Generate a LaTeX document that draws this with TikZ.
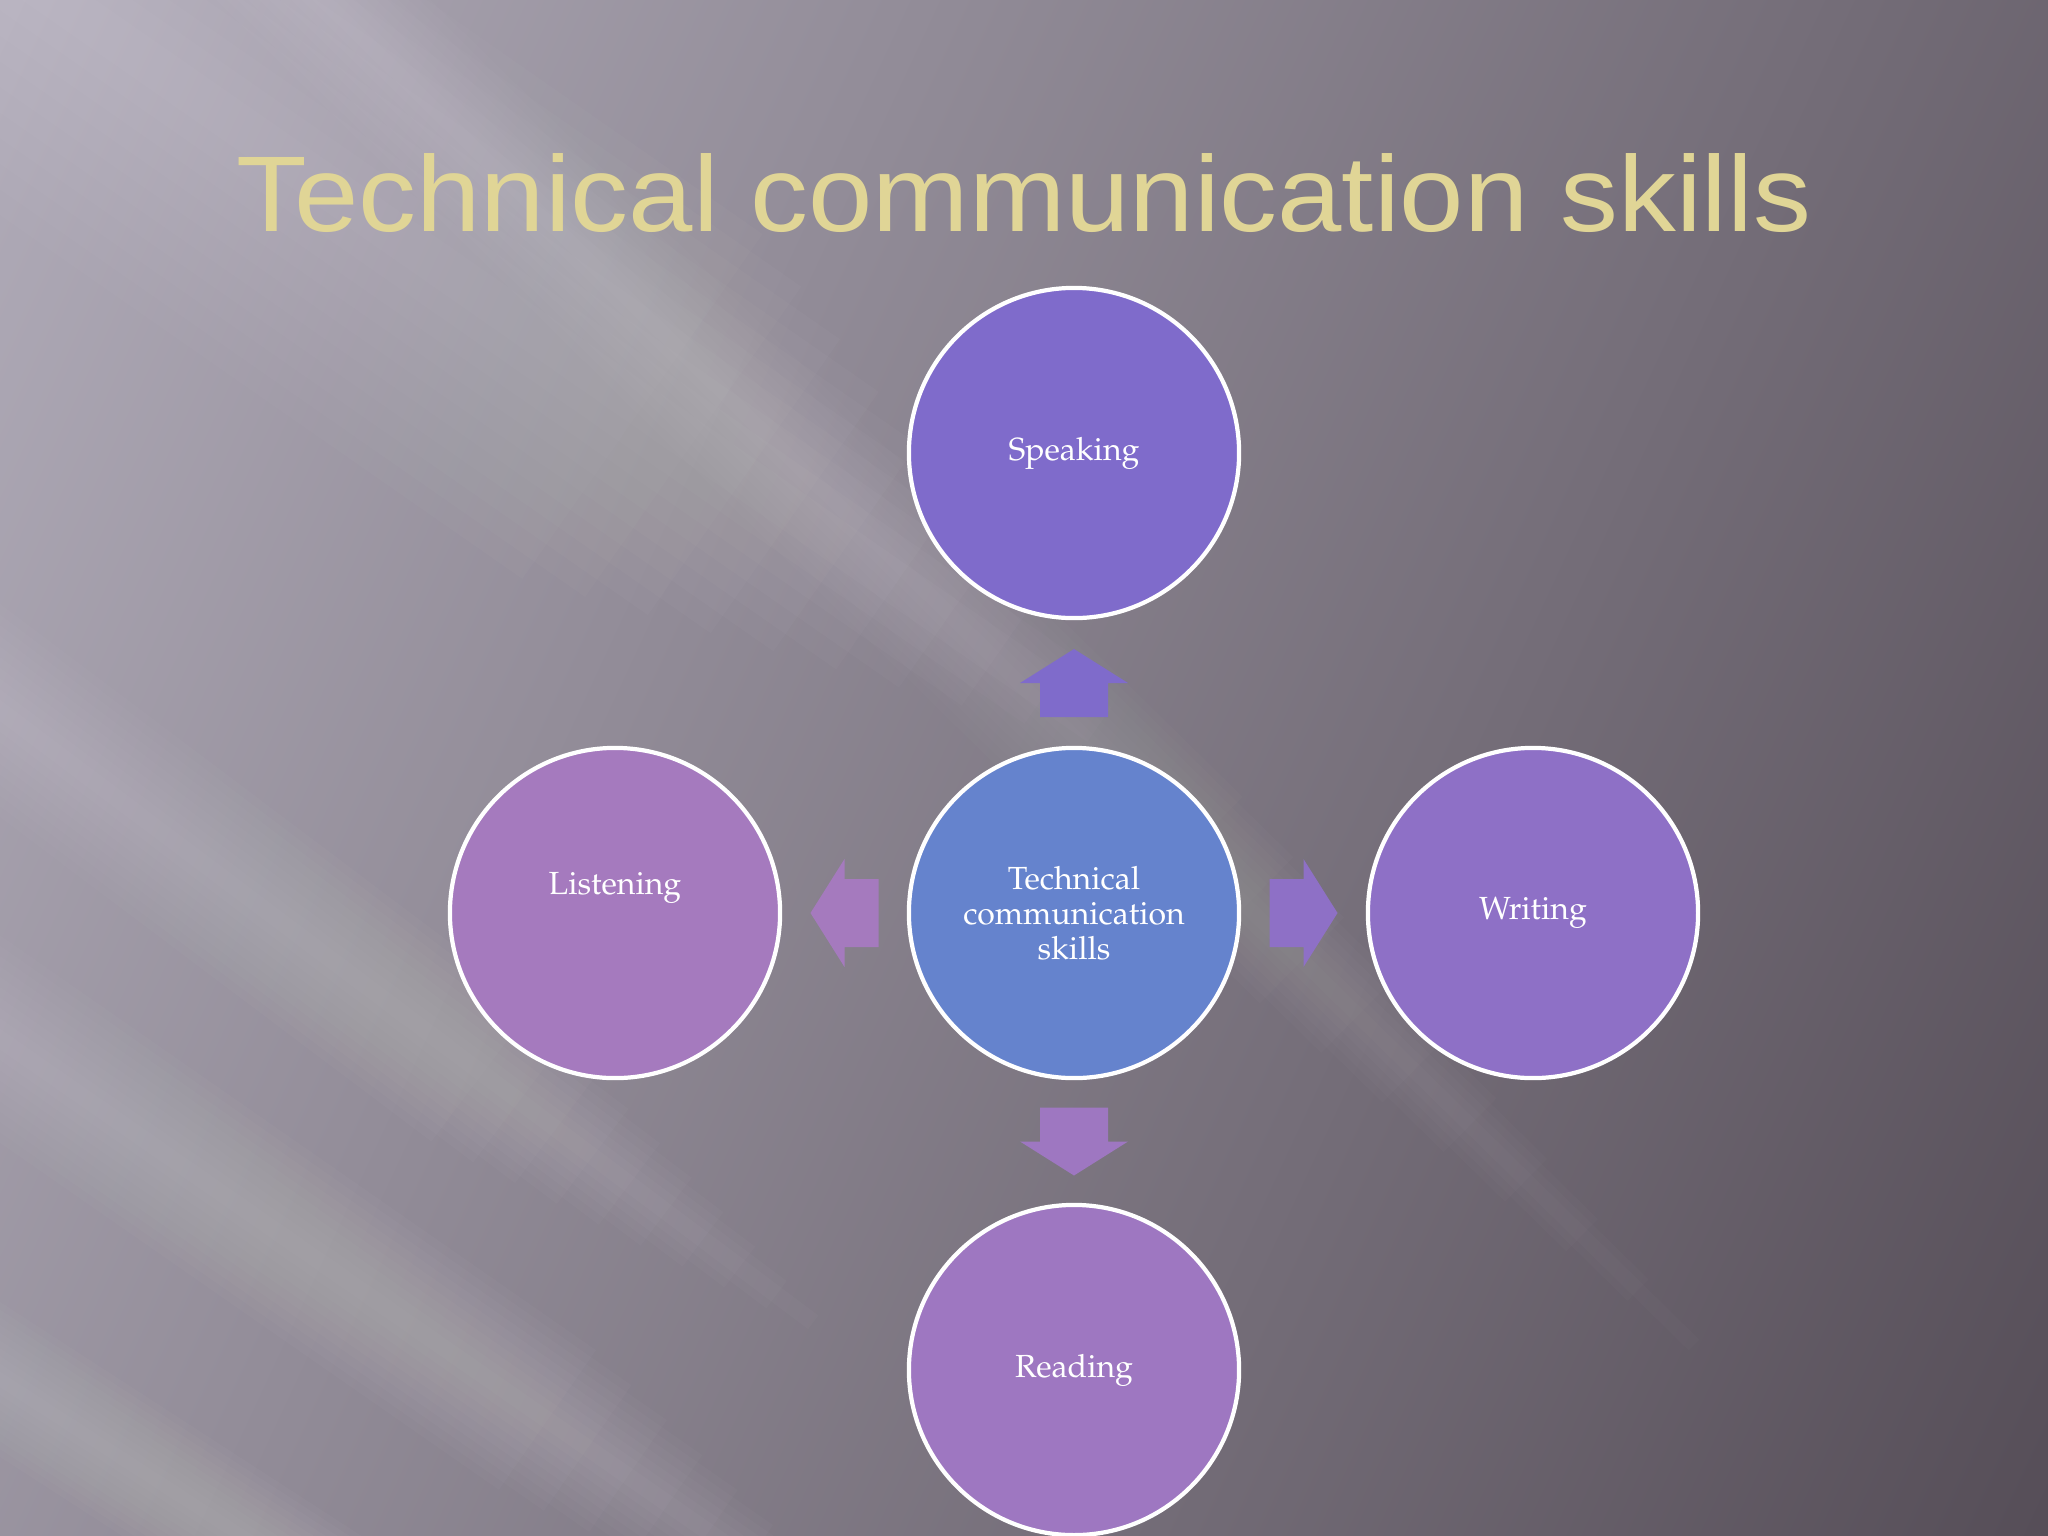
\documentclass[tikz,border=0pt]{standalone}
\usepackage[T1]{fontenc}
\usepackage{fontspec}
\newfontfamily\titlefont{Liberation Sans}
\newcommand\palafont{\fontencoding{T1}\fontfamily{ppl}\selectfont}
\usetikzlibrary{calc}
\definecolor{cSpeak}{HTML}{7F6BCB}
\definecolor{cCenter}{HTML}{6583CD}
\definecolor{cListen}{HTML}{A57ABE}
\definecolor{cWrite}{HTML}{8E70C6}
\definecolor{cRead}{HTML}{9E77C1}
\definecolor{cTitle}{HTML}{E0D596}
\definecolor{bgA}{HTML}{B0ABB8}
\definecolor{bgM}{HTML}{736B77}
\definecolor{bgB}{HTML}{564E58}
\tikzset{
  skill/.style={circle, minimum size=3.3cm, inner sep=0pt, draw=white, line width=1.2pt,
    text=white, font=\palafont\fontsize{9.1}{10}\selectfont, align=center},
  ctext/.style={text=white, font=\palafont\fontsize{9.1}{10}\selectfont, inner sep=0pt},
  blockarrow/.pic={\fill (-34,-34) -- (0,-34) -- (0,-54) -- (34,0) -- (0,54) -- (0,34) -- (-34,34) -- cycle;},
  ray/.style={white, line cap=butt},
  titletext/.style={font=\titlefont\fontsize{30.6}{36}\selectfont, xscale=1.075, inner sep=0pt, anchor=base}
}
\newcommand\lightray[4]{% start, end, width (px), opacity per layer
  \foreach \k in {1,...,10}{\draw[ray, opacity=#4, line width=\k*#3*0.2845pt/10]
    (#1) -- ($(#1)!{1-0.035*\k}!(#2)$);}}
\begin{document}
\begin{tikzpicture}[x=0.01cm, y=-0.01cm]
\useasboundingbox (0,0) rectangle (2048,1536);
% background
\begin{scope}
\clip (0,0) rectangle (2048,1536);
\shade[top color=bgA, middle color=bgM, bottom color=bgB, shading angle=65] (-300,-300) rectangle (2348,1836);
\lightray{-300,-250}{1150,760}{420}{0.018}
\lightray{150,-170}{1750,1400}{150}{0.016}
\lightray{-200,560}{850,1350}{170}{0.02}
\lightray{-200,900}{950,1700}{170}{0.02}
\lightray{-200,1250}{650,1800}{130}{0.018}
\end{scope}
% title
\node[titletext, text=cTitle] (title) at (1024,231) {Technical communication skills};
% circles
\node[skill, fill=cCenter] (ce) at (1074,913) {Technical\\communication\\skills};
\node[skill, fill=cSpeak] (sp) at (1074,453) {Speaking};
\node[skill, fill=cListen, label={[ctext, yshift=0.25cm]center:Listening}] (li) at (615,913) {};
\node[skill, fill=cWrite] (wr) at (1533,913) {Writing};
\node[skill, fill=cRead] (re) at (1074,1370) {Reading};
% block arrows
\pic[fill=cSpeak, rotate=90] at ($(ce.north)!0.5!(sp.south)$) {blockarrow};
\pic[fill=cListen, rotate=180] at ($(ce.west)!0.5!(li.east)$) {blockarrow};
\pic[fill=cWrite] at ($(ce.east)!0.5!(wr.west)$) {blockarrow};
\pic[fill=cRead, rotate=-90] at ($(ce.south)!0.5!(re.north)$) {blockarrow};
\end{tikzpicture}
\end{document}
